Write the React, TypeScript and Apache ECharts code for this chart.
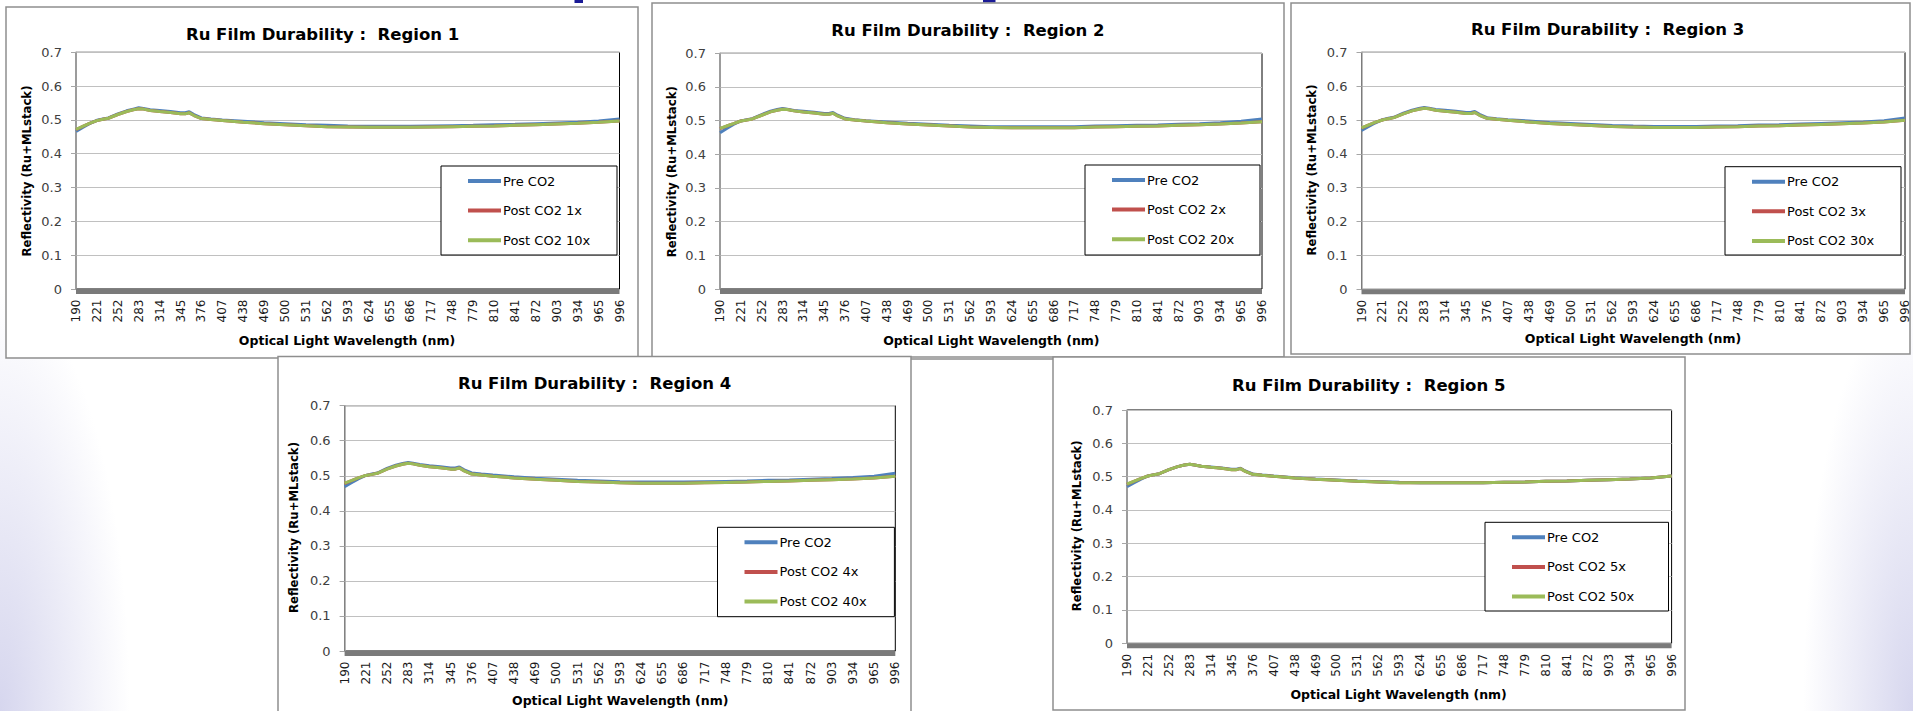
import React, { useEffect, useRef } from "react";
import * as echarts from "echarts";

// ---------------- data ----------------
const wavelengths = [190, 200, 210, 221, 230, 238, 252, 265, 275, 283, 290, 300, 314, 330, 345, 352, 358, 365, 376, 390, 407, 438, 469, 500, 531, 562, 593, 624, 655, 686, 717, 748, 779, 810, 841, 872, 903, 934, 965, 996];
const xTickLabels = [190, 221, 252, 283, 314, 345, 376, 407, 438, 469, 500, 531, 562, 593, 624, 655, 686, 717, 748, 779, 810, 841, 872, 903, 934, 965, 996];

const region1Pre = [0.466, 0.478, 0.489, 0.499, 0.503, 0.506, 0.518, 0.527, 0.532, 0.536, 0.534, 0.530, 0.528, 0.525, 0.521, 0.521, 0.524, 0.516, 0.506, 0.503, 0.500, 0.496, 0.492, 0.489, 0.486, 0.484, 0.482, 0.481, 0.481, 0.481, 0.482, 0.483, 0.484, 0.486, 0.487, 0.489, 0.491, 0.493, 0.497, 0.503];
const region1Post1x = [0.471, 0.481, 0.490, 0.498, 0.502, 0.505, 0.516, 0.525, 0.530, 0.533, 0.532, 0.528, 0.525, 0.522, 0.518, 0.518, 0.521, 0.513, 0.504, 0.501, 0.498, 0.493, 0.489, 0.486, 0.483, 0.480, 0.479, 0.478, 0.478, 0.478, 0.479, 0.480, 0.481, 0.482, 0.484, 0.486, 0.488, 0.490, 0.493, 0.497];
const region1Post10x = [0.472, 0.481, 0.490, 0.498, 0.502, 0.505, 0.516, 0.525, 0.530, 0.533, 0.532, 0.528, 0.525, 0.522, 0.518, 0.518, 0.521, 0.513, 0.504, 0.501, 0.498, 0.493, 0.489, 0.486, 0.483, 0.480, 0.479, 0.478, 0.478, 0.478, 0.479, 0.480, 0.481, 0.482, 0.484, 0.486, 0.488, 0.490, 0.493, 0.497];

const region2Pre = [0.464, 0.477, 0.489, 0.499, 0.503, 0.506, 0.518, 0.528, 0.533, 0.536, 0.534, 0.530, 0.528, 0.525, 0.521, 0.521, 0.524, 0.516, 0.507, 0.503, 0.500, 0.496, 0.492, 0.489, 0.486, 0.484, 0.482, 0.482, 0.482, 0.482, 0.482, 0.484, 0.485, 0.486, 0.487, 0.489, 0.491, 0.494, 0.498, 0.505];
const region2Post2x = [0.476, 0.484, 0.491, 0.499, 0.502, 0.505, 0.516, 0.526, 0.531, 0.534, 0.533, 0.529, 0.526, 0.523, 0.519, 0.519, 0.522, 0.514, 0.505, 0.502, 0.499, 0.494, 0.490, 0.487, 0.484, 0.481, 0.480, 0.479, 0.479, 0.479, 0.479, 0.481, 0.482, 0.483, 0.484, 0.486, 0.488, 0.490, 0.493, 0.497];
const region2Post20x = [0.477, 0.484, 0.491, 0.499, 0.502, 0.505, 0.516, 0.526, 0.531, 0.534, 0.533, 0.529, 0.526, 0.523, 0.519, 0.519, 0.522, 0.514, 0.505, 0.502, 0.499, 0.494, 0.490, 0.487, 0.484, 0.481, 0.480, 0.479, 0.479, 0.479, 0.479, 0.481, 0.482, 0.483, 0.484, 0.486, 0.488, 0.490, 0.493, 0.497];

const region3Pre = [0.469, 0.480, 0.491, 0.501, 0.505, 0.508, 0.520, 0.529, 0.534, 0.537, 0.535, 0.531, 0.529, 0.526, 0.522, 0.522, 0.525, 0.517, 0.507, 0.504, 0.501, 0.497, 0.493, 0.490, 0.487, 0.484, 0.482, 0.481, 0.481, 0.481, 0.482, 0.483, 0.485, 0.486, 0.488, 0.490, 0.492, 0.494, 0.498, 0.506];
const region3Post3x = [0.476, 0.485, 0.493, 0.500, 0.504, 0.507, 0.518, 0.527, 0.532, 0.535, 0.533, 0.529, 0.526, 0.523, 0.519, 0.519, 0.522, 0.514, 0.505, 0.502, 0.499, 0.494, 0.490, 0.487, 0.484, 0.481, 0.479, 0.478, 0.478, 0.478, 0.479, 0.480, 0.482, 0.483, 0.485, 0.487, 0.489, 0.491, 0.494, 0.499];
const region3Post30x = [0.477, 0.485, 0.493, 0.500, 0.504, 0.507, 0.518, 0.527, 0.532, 0.535, 0.533, 0.529, 0.526, 0.523, 0.519, 0.519, 0.522, 0.514, 0.505, 0.502, 0.499, 0.494, 0.490, 0.487, 0.484, 0.481, 0.479, 0.478, 0.478, 0.478, 0.479, 0.480, 0.482, 0.483, 0.485, 0.487, 0.489, 0.491, 0.494, 0.499];

const region4Pre = [0.469, 0.480, 0.491, 0.501, 0.505, 0.508, 0.521, 0.530, 0.535, 0.538, 0.536, 0.532, 0.529, 0.526, 0.522, 0.522, 0.525, 0.517, 0.508, 0.505, 0.502, 0.497, 0.493, 0.490, 0.487, 0.485, 0.483, 0.482, 0.482, 0.482, 0.483, 0.484, 0.485, 0.487, 0.488, 0.490, 0.492, 0.495, 0.499, 0.507];
const region4Post4x = [0.478, 0.486, 0.494, 0.501, 0.504, 0.507, 0.519, 0.528, 0.533, 0.536, 0.534, 0.530, 0.526, 0.523, 0.519, 0.519, 0.522, 0.514, 0.505, 0.502, 0.499, 0.494, 0.490, 0.487, 0.484, 0.482, 0.480, 0.479, 0.479, 0.479, 0.480, 0.481, 0.482, 0.484, 0.485, 0.487, 0.489, 0.491, 0.494, 0.499];
const region4Post40x = [0.479, 0.486, 0.494, 0.501, 0.504, 0.507, 0.519, 0.528, 0.533, 0.536, 0.534, 0.530, 0.526, 0.523, 0.519, 0.519, 0.522, 0.514, 0.505, 0.502, 0.499, 0.494, 0.490, 0.487, 0.484, 0.482, 0.480, 0.479, 0.479, 0.479, 0.480, 0.481, 0.482, 0.484, 0.485, 0.487, 0.489, 0.491, 0.494, 0.499];

const region5Pre = [0.470, 0.481, 0.492, 0.502, 0.506, 0.509, 0.521, 0.530, 0.535, 0.537, 0.535, 0.531, 0.529, 0.526, 0.522, 0.522, 0.525, 0.517, 0.508, 0.505, 0.502, 0.497, 0.493, 0.490, 0.487, 0.485, 0.483, 0.482, 0.482, 0.482, 0.482, 0.483, 0.484, 0.486, 0.487, 0.489, 0.491, 0.493, 0.496, 0.502];
const region5Post5x = [0.477, 0.486, 0.494, 0.502, 0.506, 0.509, 0.521, 0.530, 0.535, 0.537, 0.535, 0.531, 0.528, 0.525, 0.521, 0.521, 0.524, 0.516, 0.507, 0.504, 0.501, 0.496, 0.492, 0.489, 0.486, 0.484, 0.482, 0.482, 0.482, 0.482, 0.482, 0.483, 0.484, 0.486, 0.487, 0.489, 0.491, 0.493, 0.496, 0.502];
const region5Post50x = [0.478, 0.486, 0.494, 0.502, 0.506, 0.509, 0.521, 0.530, 0.535, 0.537, 0.535, 0.531, 0.528, 0.525, 0.521, 0.521, 0.524, 0.516, 0.507, 0.504, 0.501, 0.496, 0.492, 0.489, 0.486, 0.484, 0.482, 0.482, 0.482, 0.482, 0.482, 0.483, 0.484, 0.486, 0.487, 0.489, 0.491, 0.493, 0.496, 0.502];

const chartTitles = [
  "Ru Film Durability :  Region 1",
  "Ru Film Durability :  Region 2",
  "Ru Film Durability :  Region 3",
  "Ru Film Durability :  Region 4",
  "Ru Film Durability :  Region 5",
];
const seriesNames = [
  ["Pre CO2", "Post CO2 1x", "Post CO2 10x"],
  ["Pre CO2", "Post CO2 2x", "Post CO2 20x"],
  ["Pre CO2", "Post CO2 3x", "Post CO2 30x"],
  ["Pre CO2", "Post CO2 4x", "Post CO2 40x"],
  ["Pre CO2", "Post CO2 5x", "Post CO2 50x"],
];
const seriesValues = [
  [region1Pre, region1Post1x, region1Post10x],
  [region2Pre, region2Post2x, region2Post20x],
  [region3Pre, region3Post3x, region3Post30x],
  [region4Pre, region4Post4x, region4Post40x],
  [region5Pre, region5Post5x, region5Post50x],
];
const yAxisTitle = "Reflectivity (Ru+MLstack)";
const xAxisTitle = "Optical Light Wavelength (nm)";

// ---------------- layout / style ----------------
const seriesColors = ["#4F81BD", "#C0504D", "#9BBB59"];
const FONT = "DejaVu Sans";

type Panel = {
  box: [number, number, number, number];
  grid: [number, number, number, number]; // left, top, right, bottom(zero line)
  title: [number, number];
  yTitle: [number, number];
  xTitle: [number, number];
  legend: [number, number, number, number];
};

const panels: Panel[] = [
  { box: [6, 7, 638, 358], grid: [76, 52.3, 619.5, 289], title: [322.6, 34], yTitle: [26.5, 171], xTitle: [347, 340], legend: [441, 166, 617, 255] },
  { box: [652, 3, 1284, 357], grid: [720, 53.3, 1262, 289], title: [967.9, 30.7], yTitle: [671.6, 171.7], xTitle: [991.4, 340.7], legend: [1085, 165, 1260, 255] },
  { box: [1291, 3, 1910, 354], grid: [1361.5, 52.3, 1905, 289.3], title: [1607.6, 29.3], yTitle: [1311.5, 170], xTitle: [1633, 338.3], legend: [1725, 166.7, 1901, 255] },
  { box: [278, 356.5, 911, 716], grid: [344.6, 405.7, 895.3, 651], title: [594.6, 383.3], yTitle: [293.9, 527.5], xTitle: [620.2, 700], legend: [717.5, 527.3, 894.4, 616.7] },
  { box: [1053, 357, 1685, 710], grid: [1127, 410, 1671.6, 643.3], title: [1368.7, 385], yTitle: [1077, 525.8], xTitle: [1398.6, 694], legend: [1485, 522.3, 1668.5, 611] },
];

export default function App() {
  const ref = useRef<HTMLDivElement>(null);

  useEffect(() => {
    if (!ref.current) return;
    const chart = echarts.init(ref.current, null, { renderer: "svg" });

    const graphic: any[] = [];
    panels.forEach((p) => {
      graphic.push({
        type: "rect",
        z: -10,
        shape: { x: p.box[0], y: p.box[1], width: p.box[2] - p.box[0], height: p.box[3] - p.box[1] },
        style: { fill: "#ffffff", stroke: "#8e8e8e", lineWidth: 1.5 },
      });
    });
    // partly hidden box edge between region 4 and region 5
    graphic.push({ type: "line", z: -11, shape: { x1: 911, y1: 359, x2: 1053, y2: 359 }, style: { stroke: "#8e8e8e", lineWidth: 1.5 } });
    // slide title fragments hidden behind the charts
    graphic.push({ type: "rect", z: -12, shape: { x: 574.5, y: 0, width: 8.5, height: 3 }, style: { fill: "#1a1a96" } });
    graphic.push({ type: "rect", z: -12, shape: { x: 983, y: 0, width: 12.5, height: 2.5 }, style: { fill: "#1a1a96" } });

    panels.forEach((p, i) => {
      // thick grey floor bar under the plot area
      graphic.push({
        type: "rect",
        z: 4,
        shape: { x: p.grid[0], y: p.grid[3], width: p.grid[2] - p.grid[0], height: 5 },
        style: { fill: "#7a7a7a" },
      });
      graphic.push({
        type: "rect",
        z: 5,
        shape: { x: p.legend[0], y: p.legend[1], width: p.legend[2] - p.legend[0], height: p.legend[3] - p.legend[1] },
        style: { fill: "#ffffff", stroke: "#000000", lineWidth: 1 },
      });
      graphic.push({
        type: "text",
        z: 10,
        x: p.title[0],
        y: p.title[1],
        style: { text: chartTitles[i], font: `bold 16.5px ${FONT}`, fill: "#000", align: "center", verticalAlign: "middle" },
      });
      graphic.push({
        type: "text",
        z: 10,
        x: p.yTitle[0],
        y: p.yTitle[1],
        rotation: Math.PI / 2,
        style: { text: yAxisTitle, font: `bold 11.7px ${FONT}`, fill: "#000", align: "center", verticalAlign: "middle" },
      });
      graphic.push({
        type: "text",
        z: 10,
        x: p.xTitle[0],
        y: p.xTitle[1],
        style: { text: xAxisTitle, font: `bold 12.5px ${FONT}`, fill: "#000", align: "center", verticalAlign: "middle" },
      });
    });

    const option: any = {
      animation: false,
      graphic,
      grid: panels.map((p) => ({
        left: p.grid[0],
        top: p.grid[1],
        width: p.grid[2] - p.grid[0],
        height: p.grid[3] - p.grid[1],
        show: true,
        borderColor: "#000",
        borderWidth: 1,
        backgroundColor: "transparent",
        containLabel: false,
        outerBoundsMode: "none",
      })),
      xAxis: panels.map((_, i) => ({
        type: "value",
        gridIndex: i,
        min: 190,
        max: 996,
        position: "bottom",
        offset: 2.5,
        axisLine: { show: false, onZero: false },
        axisTick: { show: false },
        splitLine: { show: false },
        axisLabel: {
          customValues: xTickLabels,
          rotate: 90,
          margin: 8,
          fontSize: 12,
          fontFamily: FONT,
          color: "#1a1a1a",
        },
      })),
      yAxis: panels.map((_, i) => ({
        type: "value",
        gridIndex: i,
        min: 0,
        max: 0.7,
        interval: 0.1,
        axisLine: { show: true, lineStyle: { color: "#a6a6a6", width: 1.5 } },
        axisTick: { show: true, length: 5, lineStyle: { color: "#a6a6a6" } },
        splitLine: { show: true, lineStyle: { color: "#c0c0c0", width: 1 } },
        axisLabel: { fontSize: 13, fontFamily: FONT, color: "#404040", margin: 14 },
      })),
      legend: panels.map((p, i) => ({
        orient: "vertical",
        left: p.legend[0] + 27,
        top: p.legend[1] + 8.5,
        padding: 0,
        data: seriesNames[i],
        icon: "rect",
        itemWidth: 33,
        itemHeight: 4,
        itemGap: 16.6,
        selectedMode: false,
        z: 10,
        textStyle: { fontFamily: FONT, fontSize: 13, color: "#000", padding: [0, 0, 0, -3] },
      })),
      series: panels.flatMap((_, i) =>
        seriesValues[i].map((vals, s) => ({
          type: "line",
          name: seriesNames[i][s],
          xAxisIndex: i,
          yAxisIndex: i,
          symbol: "none",
          color: seriesColors[s],
          lineStyle: { color: seriesColors[s], width: 3 },
          z: 2 + s,
          data: wavelengths.map((w, k) => [w, vals[k]]),
        }))
      ),
    };

    chart.setOption(option);
    return () => chart.dispose();
  }, []);

  return (
    <div
      style={{
        position: "fixed",
        left: 0,
        top: 0,
        width: 1913,
        height: 711,
        background:
          "radial-gradient(ellipse 130px 420px at 0% 100%, rgba(214,214,238,1) 0%, rgba(255,255,255,0) 100%), radial-gradient(ellipse 110px 420px at 100% 100%, rgba(214,214,238,1) 0%, rgba(255,255,255,0) 100%), #ffffff",
      }}
    >
      <div ref={ref} style={{ width: 1913, height: 711 }} />
    </div>
  );
}
